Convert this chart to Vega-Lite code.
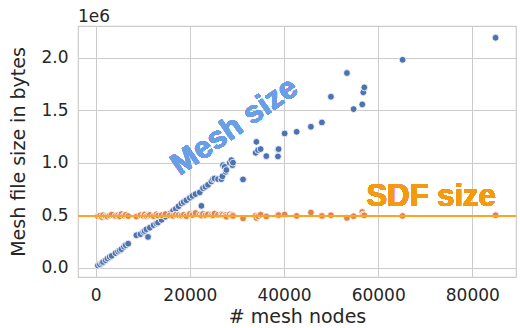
{
  "$schema": "https://vega.github.io/schema/vega-lite/v6.json",
  "width": 438,
  "height": 251,
  "autosize": {"type": "none"},
  "padding": {"left": 78, "top": 26, "right": 4, "bottom": 51},
  "background": "white",
  "title": {"text": "1e6", "anchor": "start", "frame": "group", "fontSize": 17, "font": "DejaVu Sans", "fontWeight": "normal", "color": "#262626", "offset": 0},
  "config": {
    "view": {"stroke": "#cccccc", "strokeWidth": 1.2},
    "axis": {
      "domain": false, "ticks": false, "grid": true, "gridColor": "#cccccc", "gridWidth": 1,
      "labelFont": "DejaVu Sans", "labelFontSize": 17, "labelColor": "#262626", "labelPadding": 10,
      "titleFont": "DejaVu Sans", "titleFontSize": 19, "titleFontWeight": "normal", "titleColor": "#262626"
    }
  },
  "data": {"values": [
    {"nodes": 470, "mesh": 19000, "sdf": 488000},
    {"nodes": 900, "mesh": 30000, "sdf": 495000},
    {"nodes": 1300, "mesh": 44000, "sdf": 482000},
    {"nodes": 1550, "mesh": 53000, "sdf": 500000},
    {"nodes": 2100, "mesh": 70000, "sdf": 490000},
    {"nodes": 2480, "mesh": 86000, "sdf": 486000},
    {"nodes": 2970, "mesh": 101000, "sdf": 497000},
    {"nodes": 3400, "mesh": 112000, "sdf": 505000},
    {"nodes": 4200, "mesh": 138000, "sdf": 492000},
    {"nodes": 4740, "mesh": 153000, "sdf": 499000},
    {"nodes": 5100, "mesh": 165000, "sdf": 488000},
    {"nodes": 5460, "mesh": 175000, "sdf": 510000},
    {"nodes": 6000, "mesh": 198000, "sdf": 495000},
    {"nodes": 6370, "mesh": 213000, "sdf": 503000},
    {"nodes": 6900, "mesh": 228000, "sdf": 491000},
    {"nodes": 8640, "mesh": 308000, "sdf": 486000},
    {"nodes": 9500, "mesh": 318000, "sdf": 500000},
    {"nodes": 10100, "mesh": 340000, "sdf": 493000},
    {"nodes": 10400, "mesh": 349000, "sdf": 506000},
    {"nodes": 10770, "mesh": 365000, "sdf": 489000},
    {"nodes": 11110, "mesh": 292000, "sdf": 497000},
    {"nodes": 11500, "mesh": 380000, "sdf": 502000},
    {"nodes": 12300, "mesh": 405000, "sdf": 490000},
    {"nodes": 12890, "mesh": 420000, "sdf": 508000},
    {"nodes": 13230, "mesh": 429000, "sdf": 495000},
    {"nodes": 14000, "mesh": 455000, "sdf": 500000},
    {"nodes": 14800, "mesh": 485000, "sdf": 510000},
    {"nodes": 15720, "mesh": 515000, "sdf": 498000},
    {"nodes": 16420, "mesh": 540000, "sdf": 492000},
    {"nodes": 17000, "mesh": 560000, "sdf": 505000},
    {"nodes": 17600, "mesh": 585000, "sdf": 500000},
    {"nodes": 18200, "mesh": 611000, "sdf": 496000},
    {"nodes": 18700, "mesh": 625000, "sdf": 503000},
    {"nodes": 19260, "mesh": 642000, "sdf": 490000},
    {"nodes": 20000, "mesh": 665000, "sdf": 511000},
    {"nodes": 20540, "mesh": 683000, "sdf": 500000},
    {"nodes": 21200, "mesh": 700000, "sdf": 520000},
    {"nodes": 22090, "mesh": 716000, "sdf": 505000},
    {"nodes": 22450, "mesh": 588000, "sdf": 495000},
    {"nodes": 22790, "mesh": 757000, "sdf": 512000},
    {"nodes": 23300, "mesh": 770000, "sdf": 498000},
    {"nodes": 23850, "mesh": 788000, "sdf": 508000},
    {"nodes": 24580, "mesh": 821000, "sdf": 502000},
    {"nodes": 24920, "mesh": 843000, "sdf": 497000},
    {"nodes": 25250, "mesh": 849000, "sdf": 515000},
    {"nodes": 25980, "mesh": 843000, "sdf": 503000},
    {"nodes": 26700, "mesh": 843000, "sdf": 510000},
    {"nodes": 26910, "mesh": 870000, "sdf": 498000},
    {"nodes": 27040, "mesh": 976000, "sdf": 505000},
    {"nodes": 27400, "mesh": 960000, "sdf": 494000},
    {"nodes": 27610, "mesh": 912000, "sdf": 500000},
    {"nodes": 27760, "mesh": 930000, "sdf": 485000},
    {"nodes": 28460, "mesh": 998000, "sdf": 507000},
    {"nodes": 28820, "mesh": 1024000, "sdf": 496000},
    {"nodes": 29030, "mesh": 976000, "sdf": 502000},
    {"nodes": 29160, "mesh": 1000000, "sdf": 492000},
    {"nodes": 31290, "mesh": 840000, "sdf": 468000},
    {"nodes": 33980, "mesh": 1094000, "sdf": 495000},
    {"nodes": 34130, "mesh": 1198000, "sdf": 473000},
    {"nodes": 34480, "mesh": 1119000, "sdf": 490000},
    {"nodes": 35030, "mesh": 1129000, "sdf": 504000},
    {"nodes": 36240, "mesh": 1062000, "sdf": 487000},
    {"nodes": 38710, "mesh": 1059000, "sdf": 497000},
    {"nodes": 38720, "mesh": 1126000, "sdf": 505000},
    {"nodes": 38850, "mesh": 1129000, "sdf": 500000},
    {"nodes": 40130, "mesh": 1278000, "sdf": 506000},
    {"nodes": 42680, "mesh": 1294000, "sdf": 492000},
    {"nodes": 45710, "mesh": 1342000, "sdf": 525000},
    {"nodes": 48050, "mesh": 1383000, "sdf": 492000},
    {"nodes": 49960, "mesh": 1628000, "sdf": 499000},
    {"nodes": 53360, "mesh": 1854000, "sdf": 473000},
    {"nodes": 54780, "mesh": 1510000, "sdf": 490000},
    {"nodes": 56620, "mesh": 1555000, "sdf": 530000},
    {"nodes": 56840, "mesh": 1670000, "sdf": 505000},
    {"nodes": 57050, "mesh": 1717000, "sdf": 498000},
    {"nodes": 65180, "mesh": 1980000, "sdf": 492000},
    {"nodes": 84930, "mesh": 2190000, "sdf": 499000}
  ]},
  "layer": [
    {
      "mark": {"type": "circle", "size": 46, "opacity": 1, "fill": "#4c72b0", "stroke": "white", "strokeWidth": 0.8},
      "encoding": {
        "x": {"field": "nodes", "type": "quantitative", "title": "# mesh nodes",
              "scale": {"domain": [-3760, 89270], "nice": false, "zero": false},
              "axis": {"values": [0, 20000, 40000, 60000, 80000], "format": "d"}},
        "y": {"field": "mesh", "type": "quantitative", "title": "Mesh file size in bytes",
              "scale": {"domain": [-89700, 2302000], "nice": false, "zero": false},
              "axis": {"values": [0, 500000, 1000000, 1500000, 2000000], "labelExpr": "format(datum.value / 1000000, '.1f')", "titlePadding": 12}}
      }
    },
    {
      "mark": {"type": "circle", "size": 46, "opacity": 1, "fill": "#dd8452", "stroke": "white", "strokeWidth": 0.8},
      "encoding": {
        "x": {"field": "nodes", "type": "quantitative"},
        "y": {"field": "sdf", "type": "quantitative"}
      }
    },
    {
      "mark": {"type": "rule", "color": "#ffa51c", "strokeWidth": 1.8},
      "encoding": {"y": {"datum": 490000}}
    },
    {
      "mark": {"type": "text", "text": "Mesh size", "angle": 325, "font": "Liberation Sans", "fontWeight": "bold", "fontSize": 31, "color": "#6a9fe8", "align": "center", "baseline": "middle"},
      "encoding": {"x": {"datum": 29520}, "y": {"datum": 1343000}}
    },
    {
      "mark": {"type": "text", "text": "SDF size", "font": "Liberation Sans", "fontWeight": "bold", "fontSize": 31, "color": "#f39a10", "align": "center", "baseline": "alphabetic"},
      "encoding": {"x": {"datum": 71260}, "y": {"datum": 588000}}
    }
  ]
}
